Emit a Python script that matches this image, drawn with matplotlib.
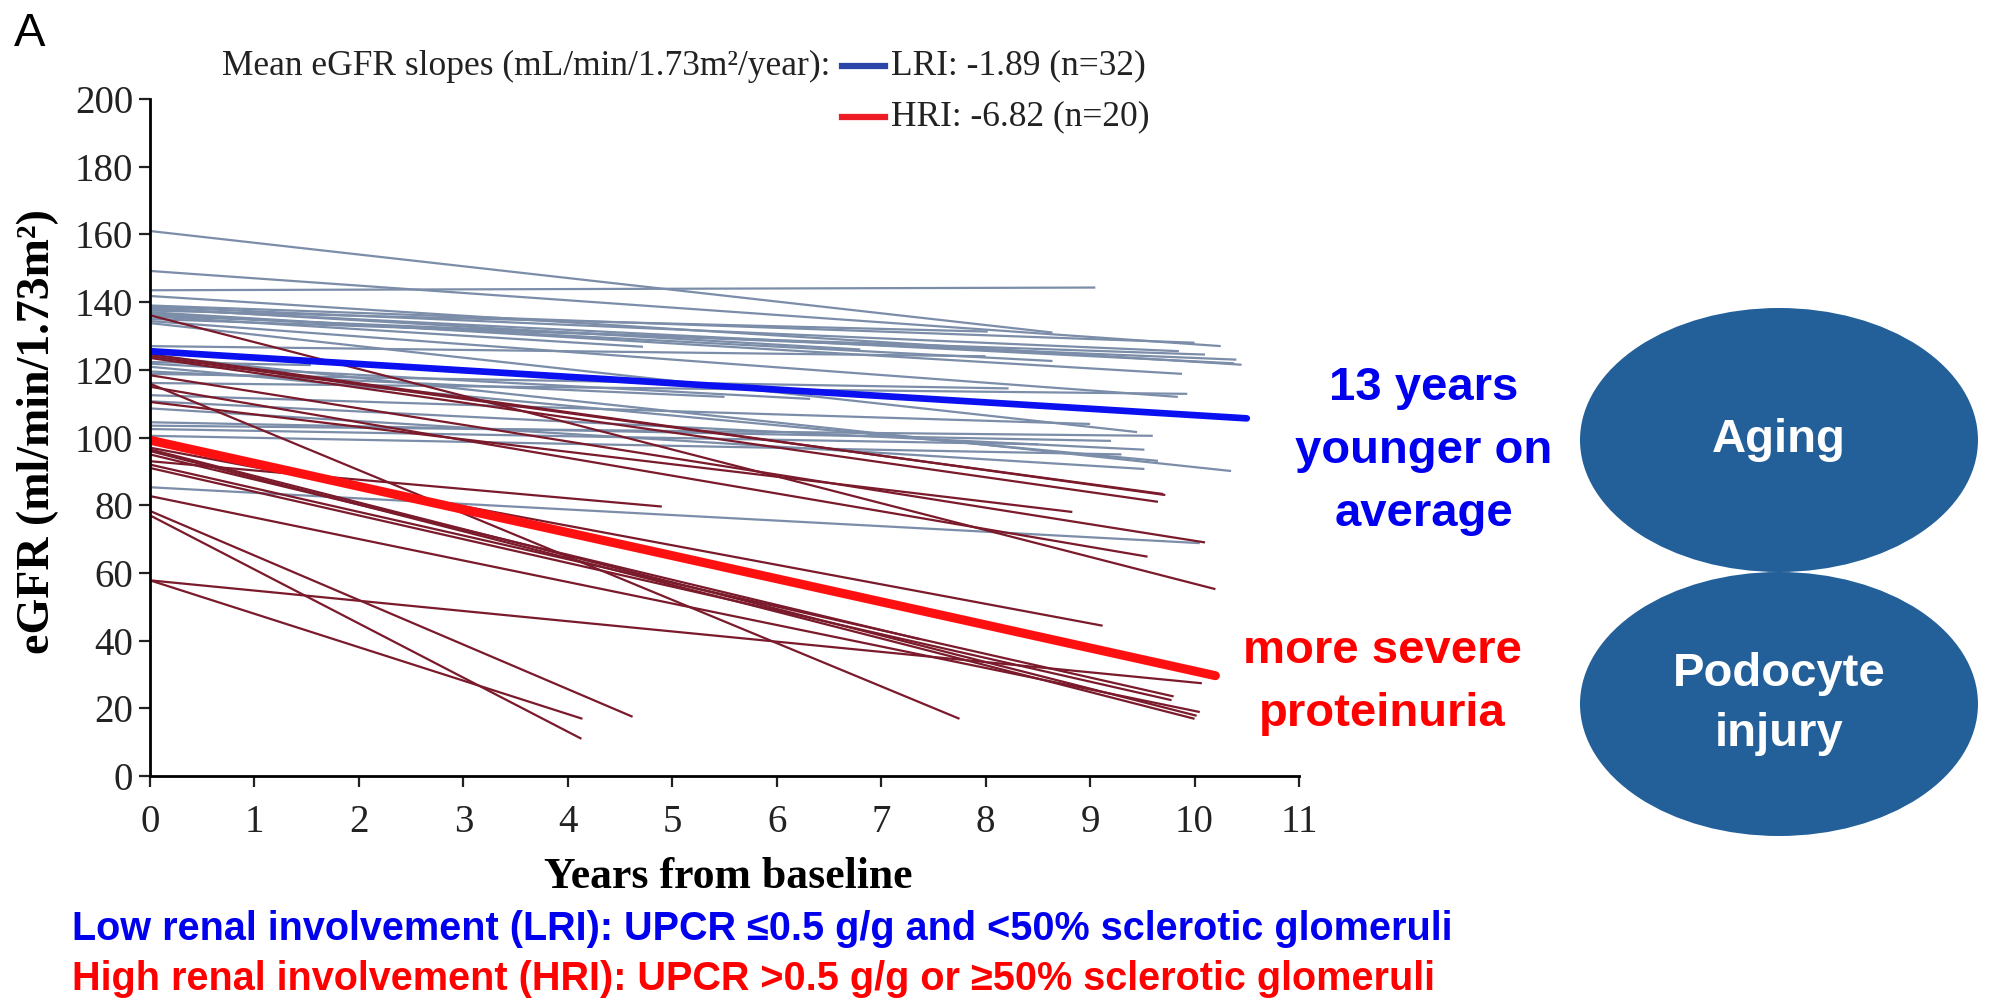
import numpy as np
import matplotlib.pyplot as plt
from matplotlib.patches import Ellipse

# per-patient eGFR trajectories: value at baseline, last follow-up year, value at last follow-up
lri_start = [161.0, 149.2, 143.5, 141.8, 138.6, 138.0, 137.5, 137.0, 136.5, 135.8, 135.0,
             134.4, 133.8, 138.2, 124.2, 122.3, 121.8, 120.9, 118.8, 116.1, 110.7, 108.6,
             104.5, 103.5, 102.5, 85.3, 139.0, 136.0, 127.0, 119.5, 112.5, 100.5]
lri_end_x = [8.64, 10.25, 9.05, 10.45, 9.85, 10.38, 8.02, 9.88, 8.64, 4.72, 10.1,
             9.84, 9.45, 6.8, 10.35, 1.54, 6.32, 9.65, 8.22, 9.93, 9.52, 9.52,
             9.2, 9.6, 8.5, 10.05, 10.0, 10.4, 8.0, 5.5, 9.0, 9.3]
lri_end_y = [131.0, 127.0, 144.3, 121.5, 125.5, 121.9, 131.3, 118.8, 122.6, 126.8, 124.5,
             112.0, 101.6, 126.0, 90.1, 121.4, 111.4, 93.1, 114.5, 112.9, 96.4, 90.7,
             99.0, 100.5, 98.0, 68.8, 128.0, 123.0, 124.0, 112.0, 104.0, 95.0]

hri_start = [136.1, 124.0, 123.5, 118.4, 115.9, 115.0, 110.5, 97.0, 96.0, 95.0,
             93.0, 91.0, 82.7, 78.3, 77.0, 57.8, 57.8, 124.6, 96.5, 92.0]
hri_end_x = [10.2, 9.7, 9.65, 10.1, 7.75, 9.55, 8.83, 9.12, 10.0, 7.37,
             4.9, 9.78, 10.05, 4.62, 4.13, 10.07, 4.14, 9.72, 10.02, 9.8]
hri_end_y = [55.2, 83.3, 81.0, 69.0, 16.9, 64.8, 78.0, 44.4, 16.9, 40.4,
             79.6, 22.4, 18.9, 17.5, 11.0, 27.4, 16.9, 83.0, 17.8, 23.5]

# group means (intercept, slope per year, last year)
lri_mean = (125.5, -1.89, 10.5)
hri_mean = (99.2, -6.82, 10.2)

W, H = 1993, 998
fig = plt.figure(figsize=(W / 100, H / 100), dpi=100)
ax = fig.add_axes([150 / W, 1 - 776 / H, 1149 / W, 677 / H])

gray = '#7b8da8'
maroon = '#7a1a2b'
for s, ex, ey in zip(lri_start, lri_end_x, lri_end_y):
    ax.plot([0, ex], [s, ey], color=gray, lw=1.6, solid_capstyle='butt')
for s, ex, ey in zip(hri_start, hri_end_x, hri_end_y):
    ax.plot([0, ex], [s, ey], color=maroon, lw=1.6, solid_capstyle='butt')

b0, b1, bx = lri_mean
ax.plot([0, bx], [b0, b0 + b1 * bx], color='#0a10f0', lw=4.8, solid_capstyle='round')
r0, r1, rx = hri_mean
ax.plot([0, rx], [r0, r0 + r1 * rx], color='#ff1010', lw=6.5, solid_capstyle='round')

ax.set_xlim(0, 11)
ax.set_ylim(0, 200)
ax.set_xticks(range(0, 12))
ax.set_yticks(range(0, 201, 20))
for sp in ['top', 'right']:
    ax.spines[sp].set_visible(False)
for sp in ['left', 'bottom']:
    ax.spines[sp].set_linewidth(2)
ax.tick_params(direction='out', length=8, width=1.6, labelsize=28, colors='#222222',
               pad=4)
for lab in ax.get_xticklabels() + ax.get_yticklabels():
    lab.set_family('Liberation Serif')
ax.tick_params(axis='x', pad=12)

serif = 'Liberation Serif'
fig.text(38 / W, 1 - 432 / H, 'eGFR (ml/min/1.73m\u00b2)', rotation=90, ha='center',
         va='center', family=serif, weight='bold', fontsize=33)
fig.text(728 / W, 1 - 877 / H, 'Years from baseline', ha='center', va='center',
         family=serif, weight='bold', fontsize=31.5)
fig.text(14 / W, 1 - 34 / H, 'A', ha='left', va='center', family='Liberation Sans',
         fontsize=34)

# legend
fig.text(830 / W, 1 - 66 / H, 'Mean eGFR slopes (mL/min/1.73m\u00b2/year):', ha='right',
         va='center', family=serif, fontsize=25.5, color='#222222')
for yy, col, txt in [(66, '#2a46a8', 'LRI: -1.89 (n=32)'), (117, '#ee1c25', 'HRI: -6.82 (n=20)')]:
    fig.add_artist(plt.Line2D([842 / W, 885 / W], [1 - yy / H, 1 - yy / H], color=col, lw=4.5))
    fig.text(891 / W, 1 - yy / H, txt, ha='left', va='center', family=serif, fontsize=25.5,
             color='#222222')

sans = 'Liberation Sans'
for i, t in enumerate(['13 years', 'younger on', 'average']):
    fig.text(1424 / W, 1 - (388 + 63 * i) / H, t, ha='center', va='center', family=sans,
             weight='bold', fontsize=34, color='#0000ee')
for i, t in enumerate(['more severe', 'proteinuria']):
    fig.text(1382 / W, 1 - (651 + 63 * i) / H, t, ha='center', va='center', family=sans,
             weight='bold', fontsize=34, color='#ff0000')

# ellipses
for cy, lines in [(440, ['Aging']), (704, ['Podocyte', 'injury'])]:
    e = Ellipse((1779 / W, 1 - cy / H), 398 / W, 264 / H, transform=fig.transFigure,
                facecolor='#235f98', edgecolor='none')
    fig.add_artist(e)
    n = len(lines)
    for k, t in enumerate(lines):
        off = (k - (n - 1) / 2) * 60
        fig.text(1779 / W, 1 - (cy + off) / H, t, ha='center', va='center', family=sans,
                 weight='bold', fontsize=34, color='white')

fig.text(72 / W, 1 - 929 / H,
         'Low renal involvement (LRI): UPCR \u22640.5 g/g and <50% sclerotic glomeruli',
         ha='left', va='center', family=sans, weight='bold', fontsize=28.5, color='#0000ee')
fig.text(72 / W, 1 - 979 / H,
         'High renal involvement (HRI): UPCR >0.5 g/g or \u226550% sclerotic glomeruli',
         ha='left', va='center', family=sans, weight='bold', fontsize=28.5, color='#ff0000')

fig.savefig('out.png', dpi=100)
